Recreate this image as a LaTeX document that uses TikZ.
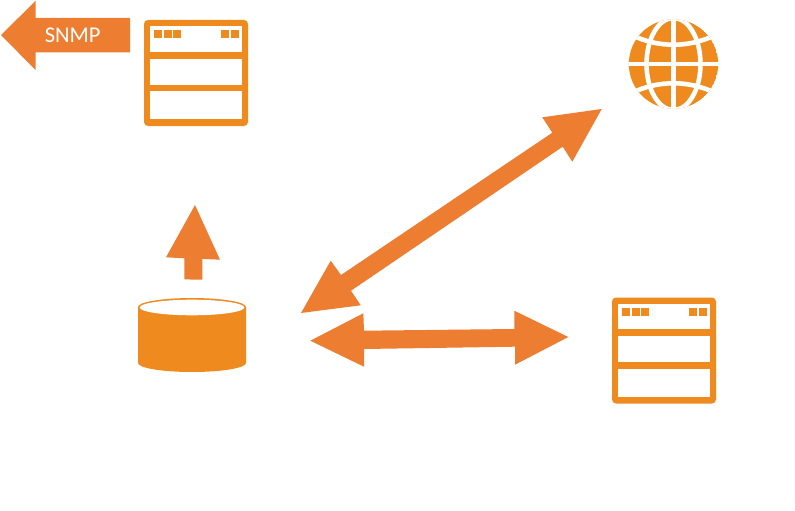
\documentclass[tikz,border=0pt]{standalone}
\usepackage{fontspec}
\setmainfont{Carlito}
\definecolor{arrowor}{HTML}{ED7D31}
\definecolor{iconor}{HTML}{EF8A1E}
\tikzset{
  x=1pt,y=-1pt,
  arrowshape/.style={fill=arrowor,draw=none},
  iconfill/.style={fill=iconor,draw=none},
  gap/.style={draw=white,line width=4.6pt},
}
\newcommand{\serverpic}[2]{%
  \begin{scope}[shift={(#1,#2)}]
    \fill[iconor,rounded corners=4pt] (0,0) rectangle (104,106);
    \fill[white] (6.3,6) rectangle (97.7,31.7);
    \fill[white] (6.3,38.7) rectangle (97.7,64.7);
    \fill[white] (6.3,71.3) rectangle (97.7,99.3);
    \foreach \xa in {9.5,19.5,29.2,77,87}
      \fill[iconor] (\xa,10) rectangle ++(8,8);
  \end{scope}}
\begin{document}
\begin{tikzpicture}
\useasboundingbox (0,0) rectangle (795,511);
% SNMP arrow
\fill[arrowshape] (1,35) -- (35.5,1) -- (35.5,18) -- (130,18) -- (130,52.5) -- (35.5,52.5) -- (35.5,70) -- cycle;
\node[text=white,font=\fontsize{22.5pt}{26pt}\selectfont,inner sep=0pt] (snmp) at (72.7,35.5) {SNMP};
% servers
\serverpic{144}{20}
\serverpic{612}{297.5}
% globe
\begin{scope}[shift={(673.5,64)}]
  \clip (0,0) circle[radius=44.7];
  \fill[iconor] (0,0) circle[radius=44.7];
  \draw[gap] (0,0) ellipse[x radius=27,y radius=46];
  \draw[gap] (0,-50) -- (0,50);
  \draw[gap] (-50,0) -- (50,0);
  \draw[gap] (-42,-29) .. controls (-15,-16) and (15,-16) .. (42,-29);
  \draw[gap] (-42,29) .. controls (-15,16) and (15,16) .. (42,29);
\end{scope}
% database
\fill[iconfill] (138,307) arc[start angle=180,end angle=360,x radius=54,y radius=9] -- (246,363) arc[start angle=0,end angle=180,x radius=54,y radius=9] -- cycle;
\fill[white] (192,307.5) ellipse[x radius=52.3,y radius=7.8];
% up arrow
\fill[arrowshape] (195,205) -- (220,259.7) -- (202.3,258.9) -- (202.3,279.7) -- (184.3,279.4) -- (184.3,258.3) -- (166,257.3) -- cycle;
% diagonal double arrow
\fill[arrowshape] (301,313) -- (330.7,260.7) -- (341,275) -- (552.3,132.7) -- (542.3,117.3) -- (601.7,109) -- (572.3,161.7) -- (562.7,146.7) -- (351,290.7) -- (360.7,305.3) -- cycle;
% horizontal double arrow
\fill[arrowshape] (310.3,340.7) -- (363.3,313.3) -- (364,330.7) -- (514.3,329) -- (514.3,310.7) -- (568.3,337) -- (515,364.7) -- (515,346.7) -- (364,349) -- (364,366.7) -- cycle;
\end{tikzpicture}
\end{document}
